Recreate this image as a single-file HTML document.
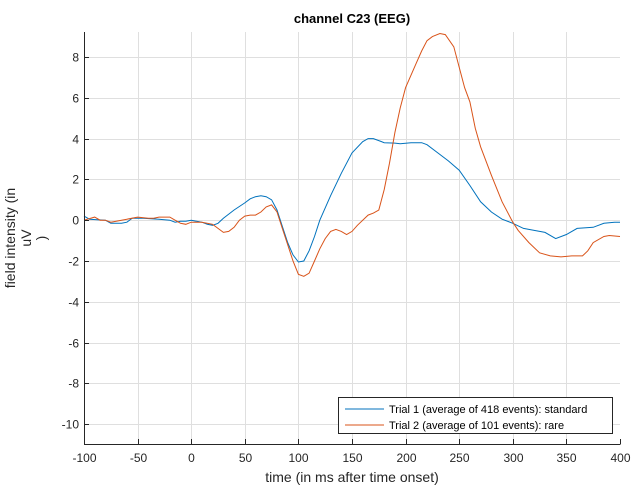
<!DOCTYPE html>
<html><head><style>body{margin:0;background:#fff}svg{display:block;font-family:"Liberation Sans",sans-serif}</style></head>
<body>
<svg id="s" width="640" height="495" xmlns="http://www.w3.org/2000/svg">
<rect width="640" height="495" fill="#fff"/>
<g id="grid" stroke="#dfdfdf" stroke-width="1"></g>
<g id="lines" fill="none" stroke-width="1"></g>
<rect x="84.5" y="32.5" width="536" height="412" fill="none" stroke="none"/>
<line x1="84.5" y1="32" x2="84.5" y2="444.5" stroke="#262626"/>
<line x1="84" y1="444.5" x2="620.5" y2="444.5" stroke="#262626"/>
<g id="ticks" font-size="12" fill="#262626"></g>
<text x="352" y="23" font-size="13" font-weight="bold" text-anchor="middle" fill="#000">channel C23 (EEG)</text>
<text x="352" y="482" font-size="14" text-anchor="middle" fill="#262626">time (in ms after time onset)</text>
<g font-size="14" fill="#262626" text-anchor="middle">
<text transform="translate(15,238) rotate(-90)">field intensity (in</text>
<text transform="translate(31,238) rotate(-90)">uV</text>
<text transform="translate(46,238) rotate(-90)">)</text>
</g>
<rect x="338.5" y="397.5" width="274" height="36" fill="#fff" stroke="#262626"/>
<line x1="345" y1="409" x2="384" y2="409" stroke="#0072bd"/>
<line x1="345" y1="425" x2="384" y2="425" stroke="#d95319"/>
<text x="389" y="413" font-size="11" fill="#000">Trial 1 (average of 418 events): standard</text>
<text x="389" y="429" font-size="11" fill="#000">Trial 2 (average of 101 events): rare</text>
</svg>
<script>
const X=ms=>84+(ms+100)*1.072, Y=v=>220.2-v*20.4;
const g=document.getElementById('grid'),t=document.getElementById('ticks'),L=document.getElementById('lines');
const ns="http://www.w3.org/2000/svg";
function el(p,n,a,txt){const e=document.createElementNS(ns,n);for(const k in a)e.setAttribute(k,a[k]);if(txt!=null)e.textContent=txt;p.appendChild(e);return e;}
for(let ms=-100;ms<=400;ms+=50){const x=Math.round(X(ms))+0.5;
 if(ms>-100&&ms<400)el(g,'line',{x1:x,y1:32,x2:x,y2:444});
 el(t,'line',{x1:x,y1:444,x2:x,y2:439,stroke:'#262626'});
 el(t,'text',{x:x,y:462,'text-anchor':'middle'},ms);}
for(let v=-10;v<=8;v+=2){const y=Math.round(Y(v))+0.5;
 el(g,'line',{x1:84,y1:y,x2:620,y2:y});
 el(t,'line',{x1:84,y1:y,x2:89,y2:y,stroke:'#262626'});
 el(t,'text',{x:79,y:y+4,'text-anchor':'end'},v);}
const b=[-100,0.2,-95,0.05,-80,0,-75,-0.15,-65,-0.15,-60,-0.1,-55,0.1,-45,0.1,-30,0.05,-20,0,-15,-0.1,-10,-0.05,-5,-0.05,0,0,5,-0.05,10,-0.1,15,-0.2,20,-0.25,25,-0.15,30,0.1,40,0.5,50,0.85,55,1.05,60,1.15,65,1.2,70,1.15,75,1.0,80,0.5,85,-0.3,90,-1.1,95,-1.7,100,-2.05,105,-2.0,110,-1.5,115,-0.8,120,0,130,1.2,140,2.3,150,3.3,160,3.85,165,4.0,170,4.0,175,3.9,180,3.8,190,3.78,195,3.75,205,3.8,215,3.8,220,3.7,230,3.3,240,2.9,250,2.45,260,1.7,270,0.9,280,0.4,290,0.05,300,-0.15,310,-0.4,320,-0.5,330,-0.6,340,-0.9,350,-0.7,360,-0.4,375,-0.35,385,-0.15,395,-0.1,400,-0.1];
const r=[-100,0,-90,0.15,-85,0.0,-80,0,-75,-0.1,-70,-0.05,-60,0.05,-50,0.15,-40,0.1,-35,0.1,-30,0.15,-20,0.15,-15,0.0,-10,-0.15,-5,-0.2,0,-0.1,10,-0.1,20,-0.2,25,-0.4,30,-0.6,35,-0.55,40,-0.35,45,0,50,0.2,55,0.25,60,0.25,65,0.4,70,0.65,75,0.75,80,0.4,85,-0.4,90,-1.2,95,-2.0,100,-2.65,105,-2.75,110,-2.6,115,-2.0,120,-1.4,125,-0.9,130,-0.55,135,-0.45,140,-0.55,145,-0.7,150,-0.55,155,-0.25,165,0.25,170,0.35,175,0.5,180,1.5,185,2.8,190,4.3,195,5.5,200,6.5,210,7.7,215,8.3,220,8.8,225,9.0,232,9.15,237,9.1,245,8.5,250,7.5,255,6.5,260,5.8,265,4.5,270,3.6,280,2.2,290,0.9,300,-0.1,305,-0.5,315,-1.1,325,-1.6,335,-1.75,345,-1.8,355,-1.75,365,-1.75,370,-1.5,375,-1.1,385,-0.8,390,-0.75,400,-0.8];
function pts(a){let s=[];for(let i=0;i<a.length;i+=2)s.push(X(a[i]).toFixed(1)+','+Y(a[i+1]).toFixed(1));return s.join(' ');}
el(L,'polyline',{points:pts(b),stroke:'#0072bd'});
el(L,'polyline',{points:pts(r),stroke:'#d95319'});
</script>
</body></html>
